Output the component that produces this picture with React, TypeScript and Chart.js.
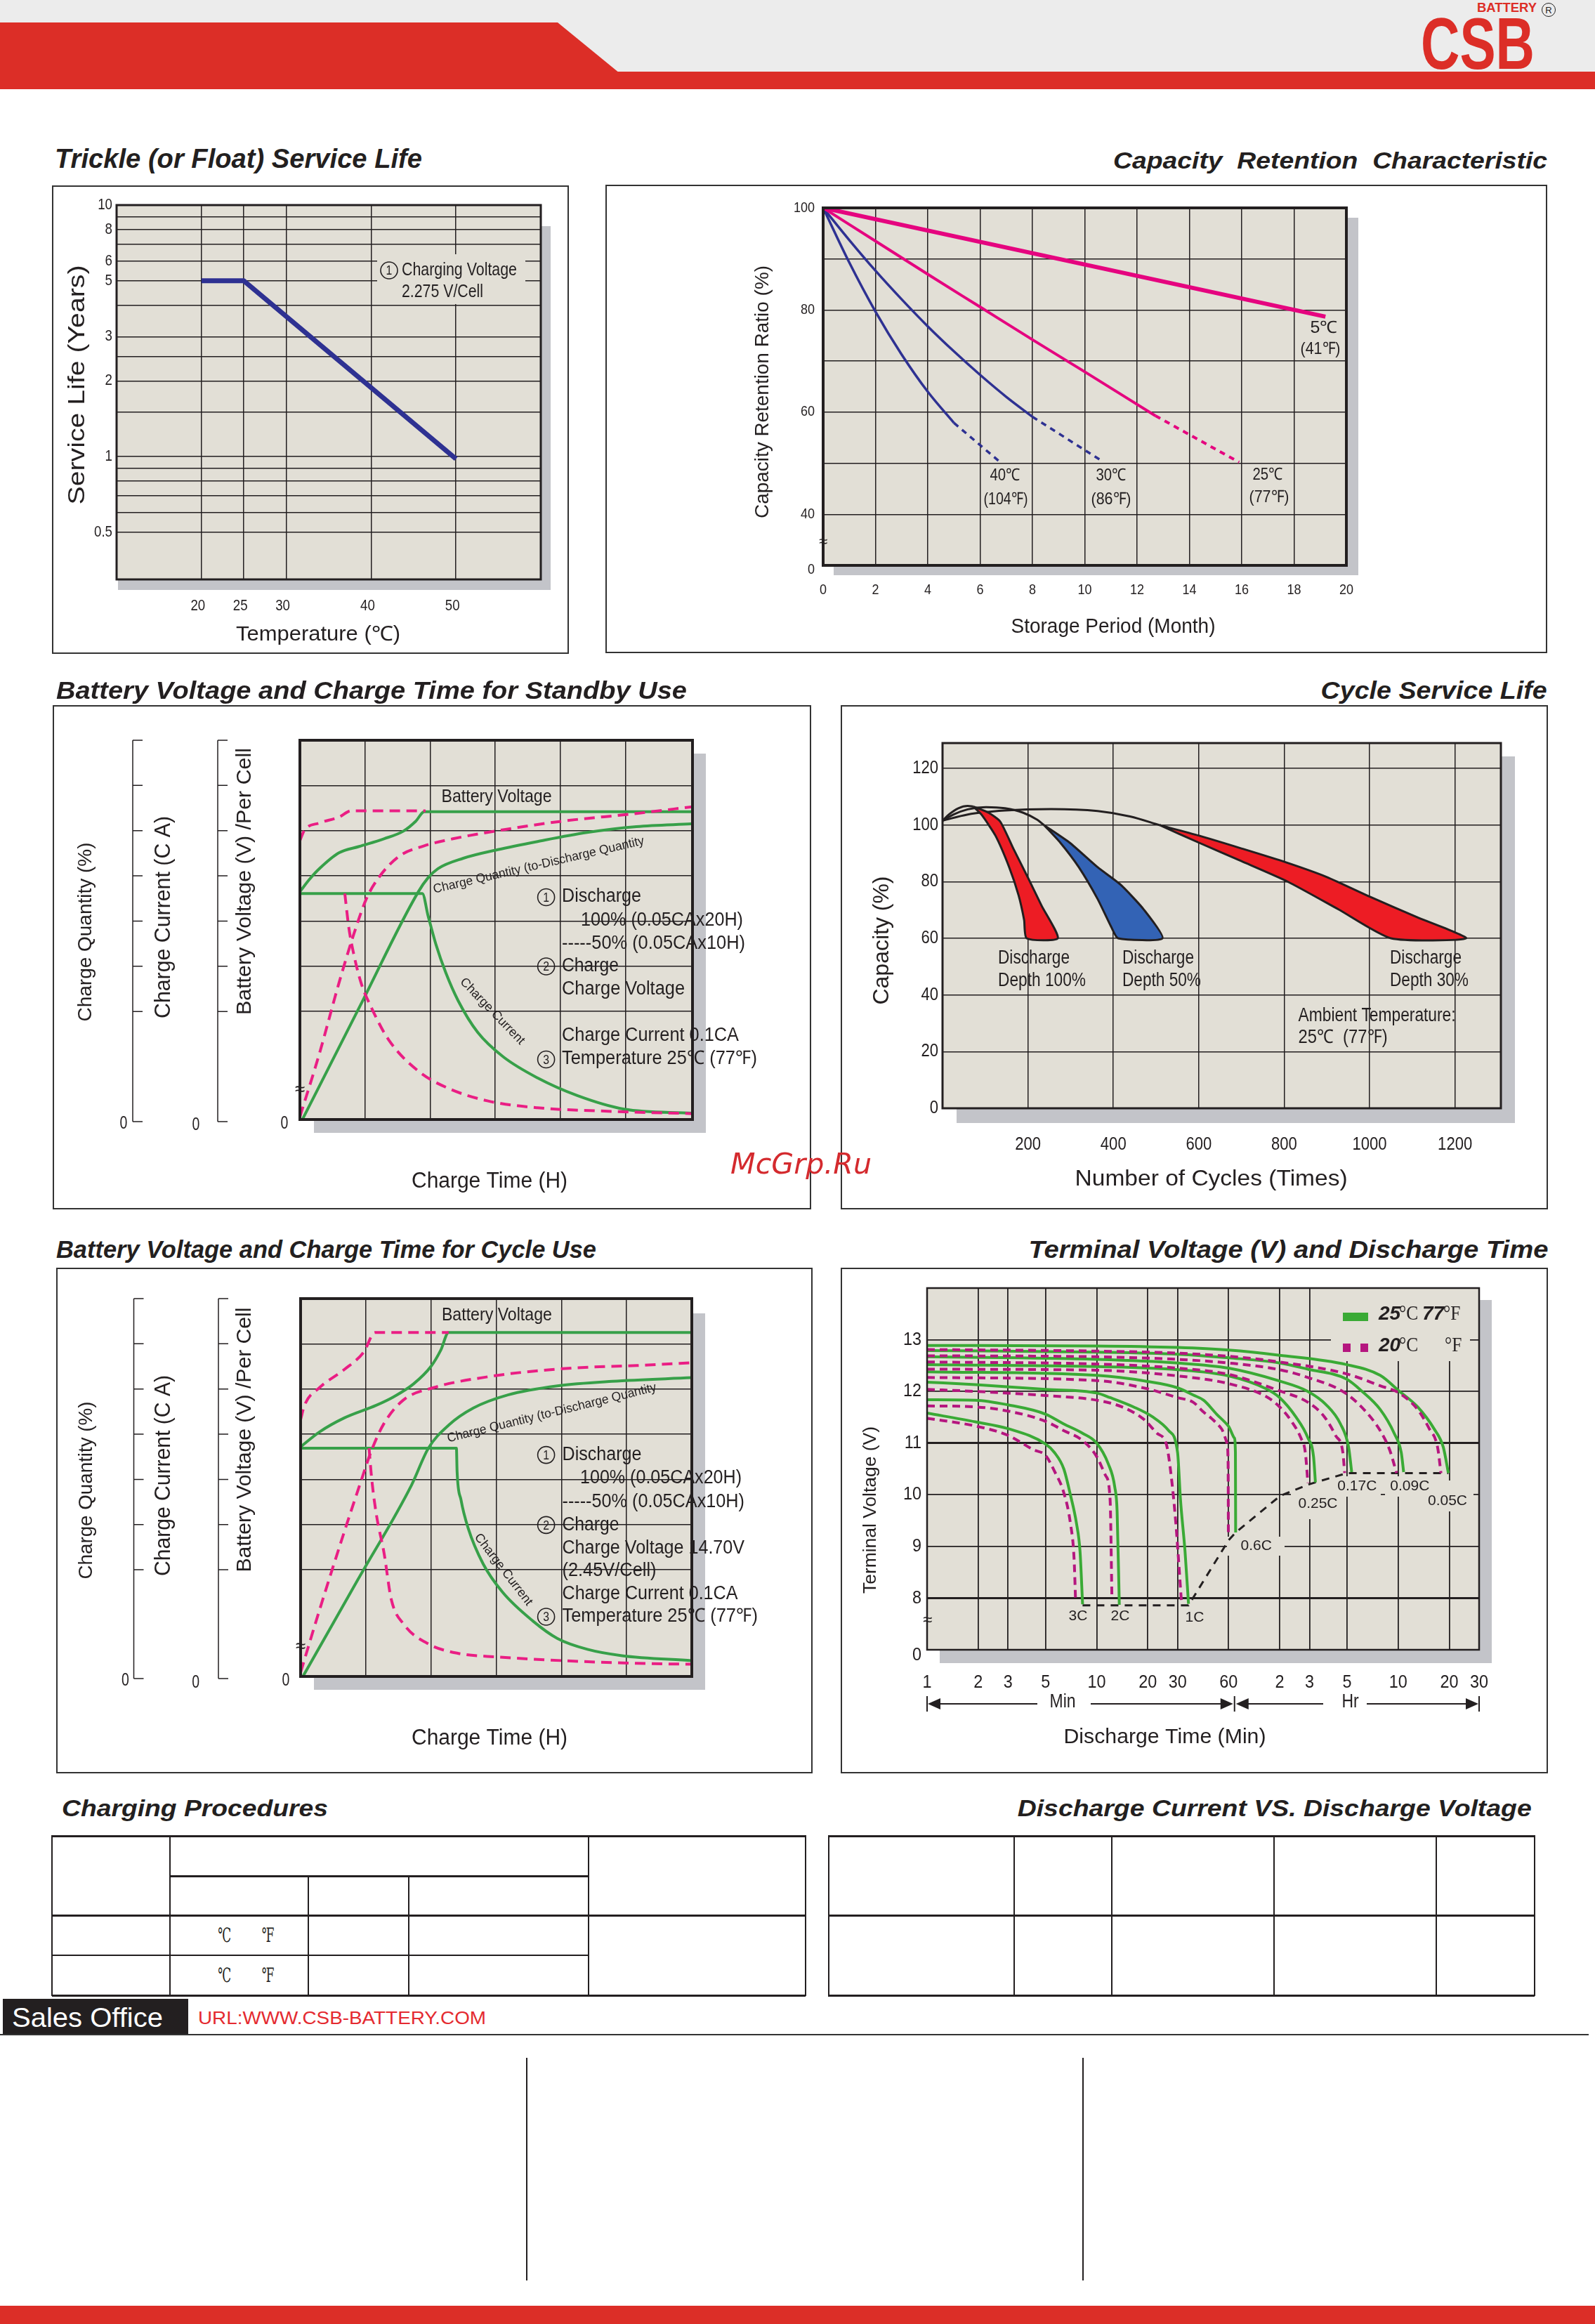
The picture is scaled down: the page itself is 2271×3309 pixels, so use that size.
import React, { useEffect, useRef } from 'react';
import { Chart, registerables } from 'chart.js';

Chart.register(...registerables);

const SANS = '"Liberation Sans", Arial, Helvetica, sans-serif';
const SERIF = '"Liberation Serif", "DejaVu Serif", serif';
const INK = '#231f20';
const PLOT_BG = '#e2dfd6';
const SHADOW = '#c3c4c9';
const BRAND_RED = '#dc2e27';
const NAVY = '#2e3192';
const MAGENTA = '#e5047f';
const CH_GREEN = '#37a049';
const CH_PINK = '#ea1e84';
const TV_GREEN = '#3aaa35';
const TV_PINK = '#b5167f';
const CYCLE_RED = '#ed1c24';
const CYCLE_BLUE = '#3363b5';

// ---------------- Trickle (float) service life ----------------
const trickleTemp = [20, 25, 50];
const trickleYears = [5, 5, 0.98];
const trickleGridX = [20, 25, 30, 40, 50];
const trickleGridY = [9, 8, 7, 6, 5, 4, 3, 2.5, 2, 1.5, 1, 0.9, 0.8, 0.7, 0.6, 0.5];
const trickleLabelY = [10, 8, 6, 5, 3, 2, 1, 0.5];

// ---------------- Capacity retention ----------------
const ret5Month = [0, 19.2];
const ret5Pct = [100, 78.7];
const ret25Month = [0, 2, 4, 6, 8, 10, 12.7];
const ret25Pct = [100, 93.5, 87.0, 80.6, 74.2, 67.9, 59.3];
const ret25DashMonth = [12.7, 15.9];
const ret25DashPct = [59.3, 50.2];
const ret30Month = [0, 1, 2, 3, 4, 5, 6, 7, 8];
const ret30Pct = [100, 93.7, 87.7, 82.1, 76.8, 71.9, 67.3, 63.0, 59.1];
const ret30DashMonth = [8, 10.7];
const ret30DashPct = [59.1, 50.3];
const ret40Month = [0, 1, 2, 3, 4, 5];
const ret40Pct = [100, 89.3, 79.7, 71.3, 64.0, 57.9];
const ret40DashMonth = [5, 6.7];
const ret40DashPct = [57.9, 50.5];
const retGridX = [2, 4, 6, 8, 10, 12, 14, 16, 18];
const retGridY = [40, 50, 60, 70, 80, 90];
const retTickX = [0, 2, 4, 6, 8, 10, 12, 14, 16, 18, 20];
const retTickY = [100, 80, 60, 40];

// ---------------- Standby charging (relative grid units) ----------------
const sbVoltX = [0, 0.145, 0.3, 0.6, 0.91, 1.29, 1.59, 1.78, 1.91, 6.03];
const sbVoltY = [4.65, 4.92, 5.16, 5.51, 5.65, 5.82, 5.99, 6.21, 6.42, 6.42];
const sbVolt50X = [0, 0.07, 0.3, 0.6, 0.79, 1.93];
const sbVolt50Y = [5.78, 6.01, 6.17, 6.3, 6.44, 6.44];
const sbQtyX = [0.046, 0.93, 1.82, 1.97, 2.12, 2.51, 3.04, 3.65, 4.41, 5.17, 6.01];
const sbQtyY = [-0.37, 2.14, 4.65, 4.96, 5.16, 5.39, 5.58, 5.76, 5.96, 6.09, 6.15];
const sbQty50X = [0, 0.3, 0.6, 0.83, 1.02, 1.21, 1.52, 1.9, 2.35, 3.04, 4.03, 5.17, 6.03];
const sbQty50Y = [-0.33, 1.07, 2.63, 3.72, 4.49, 4.96, 5.43, 5.66, 5.82, 6.0, 6.21, 6.38, 6.53];
const sbCurX = [0, 1.88, 1.97, 2.09, 2.24, 2.43, 2.73, 3.12, 3.65, 4.26, 4.98, 6.03];
const sbCurY = [4.61, 4.61, 4.11, 3.48, 2.86, 2.24, 1.54, 1.0, 0.53, 0.14, -0.16, -0.25];
const sbCur50X = [0.69, 0.75, 0.83, 0.94, 1.1, 1.36, 1.82, 2.28, 2.89, 3.65, 4.79, 6.03];
const sbCur50Y = [4.61, 3.87, 3.25, 2.63, 2.08, 1.38, 0.68, 0.3, 0.02, -0.13, -0.21, -0.26];

// ---------------- Cycle charging (relative grid units) ----------------
const cyVoltX = [0, 0.29, 0.67, 1.16, 1.43, 1.73, 2.0, 2.15, 2.27, 6.0];
const cyVoltY = [4.72, 5.05, 5.36, 5.64, 5.83, 6.11, 6.5, 6.86, 7.25, 7.25];
const cyVolt50X = [0, 0.06, 0.29, 0.67, 0.97, 1.14, 2.27];
const cyVolt50Y = [5.32, 5.64, 6.03, 6.43, 6.82, 7.25, 7.25];
const cyQtyX = [0.04, 0.87, 1.7, 1.96, 2.27, 2.65, 3.18, 3.94, 4.78, 6.0];
const cyQtyY = [-0.35, 1.76, 3.87, 4.69, 5.2, 5.58, 5.87, 6.07, 6.17, 6.25];
const cyQty50X = [0, 0.29, 0.67, 0.94, 1.09, 1.28, 1.58, 2.04, 2.87, 4.02, 5.16, 6.0];
const cyQty50Y = [-0.27, 1.11, 2.84, 4.02, 4.65, 5.24, 5.76, 6.03, 6.27, 6.45, 6.52, 6.58];
const cyCurX = [0, 2.39, 2.4, 2.46, 2.57, 2.8, 3.1, 3.56, 3.94, 4.4, 4.93, 6.0];
const cyCurY = [4.69, 4.69, 4.18, 3.55, 2.92, 2.13, 1.5, 0.87, 0.48, 0.24, 0.1, -0.01];
const cyCur50X = [1.05, 1.09, 1.16, 1.28, 1.39, 1.58, 1.96, 2.42, 3.03, 4.02, 5.16, 6.0];
const cyCur50Y = [4.69, 4.02, 3.24, 2.37, 1.35, 0.8, 0.36, 0.15, 0.07, -0.01, -0.07, -0.09];
const chargeGridX = [1, 2, 3, 4, 5];
const chargeGridY = [2, 3, 4, 5, 6, 7];

// ---------------- Cycle service life ----------------
const env1X = [0, 15, 37, 59, 72];
const env1Y = [101.5, 103.7, 105.9, 106.7, 106.5];
const env2X = [0, 26, 59, 102, 146, 189, 222, 238];
const env2Y = [101.5, 103.7, 105.5, 106.3, 105.9, 104.3, 101.8, 99.9];
const env3X = [0, 59, 146, 254, 363, 439, 509];
const env3Y = [101.5, 103.7, 105.1, 105.6, 104.9, 103.0, 99.9];
const dod100X = [72, 91, 124, 156, 178, 191, 197, 270, 232, 200, 167, 135, 108, 72];
const dod100Y = [106.5, 103.7, 96.2, 85.1, 75.2, 66.5, 60, 60, 71.5, 81.4, 91.3, 101.2, 104.3, 106.5];
const dod50X = [238, 276, 319, 363, 395, 411, 515, 471, 417, 363, 298, 238];
const dod50Y = [99.9, 93.7, 85.1, 73.9, 64, 60, 60, 70.2, 78.9, 85.1, 93.7, 99.9];
const dod30X = [509, 601, 700, 808, 927, 1050, 1226, 1110, 1003, 900, 802, 700, 601, 509];
const dod30Y = [99.9, 93.7, 87.2, 80.0, 70.2, 60, 60, 67.5, 74.5, 81.6, 86.9, 91.7, 96.2, 99.9];
const cycleGridX = [200, 400, 600, 800, 1000, 1200];
const cycleGridY = [20, 40, 60, 80, 100, 120];
const cycleTickY = [0, 20, 40, 60, 80, 100, 120];

// ---------------- Terminal voltage vs discharge time (minutes, volts) ----------------
const t25_3C = [1, 1.93, 3, 5, 5.63, 6.4, 7.0, 7.6, 7.98, 8.26];
const v25_3C = [11.58, 11.41, 11.28, 10.98, 10.82, 10.5, 10.0, 9.45, 8.9, 7.88];
const t20_3C = [1, 1.93, 3, 4.24, 5, 5.63, 6.4, 7.0, 7.36, 7.5];
const v20_3C = [11.48, 11.33, 11.15, 10.87, 10.76, 10.46, 10.04, 9.45, 8.76, 8.01];
const t25_2C = [1, 1.93, 3, 5, 6.4, 8.26, 10, 11.7, 12.8, 13.2, 13.6];
const v25_2C = [11.84, 11.83, 11.74, 11.56, 11.37, 11.19, 11.0, 10.6, 10.14, 9.68, 7.87];
const t20_2C = [1, 1.93, 3, 5, 6.4, 8.26, 10, 11.3, 12.0, 12.3];
const v20_2C = [11.72, 11.7, 11.62, 11.42, 11.24, 11.05, 10.74, 10.37, 9.91, 8.01];
const t25_1C = [1, 1.93, 5, 10, 12, 16.5, 21.3, 26.6, 30, 31.2, 33.2, 34.8];
const v25_1C = [12.18, 12.13, 12.04, 11.97, 11.88, 11.7, 11.51, 11.24, 10.82, 9.91, 8.9, 7.89];
const t20_1C = [1, 1.93, 5, 10, 14.1, 18.8, 22.7, 25.8, 27.5, 29.3, 31.6];
const v20_1C = [12.04, 12.0, 11.92, 11.83, 11.7, 11.47, 11.19, 10.97, 10.37, 9.45, 7.94];
const t25_06C = [1, 10, 19.4, 30, 37.1, 42.7, 51, 59.8, 64.8, 65.8, 66];
const v25_06C = [12.38, 12.31, 12.2, 12.07, 11.93, 11.83, 11.56, 11.33, 11.1, 10.82, 9.27];
const t20_06C = [1, 10, 19.4, 30, 37.1, 42.7, 47.8, 54.4, 58.7, 59.6, 59.8];
const v20_06C = [12.27, 12.21, 12.06, 11.88, 11.79, 11.6, 11.47, 11.28, 11.0, 10.6, 9.27];
const t25_025C = [1, 10, 30, 60, 100, 120, 150, 176, 190, 195];
const v25_025C = [12.52, 12.48, 12.42, 12.3, 12.05, 11.88, 11.5, 11.1, 10.74, 10.24];
const t20_025C = [1, 10, 30, 60, 100, 120, 141, 160, 170, 176];
const v20_025C = [12.43, 12.41, 12.3, 12.15, 11.9, 11.7, 11.42, 11.1, 10.82, 10.23];
const t25_017C = [1, 10, 30, 60, 120, 176, 226, 274, 306, 319];
const v25_017C = [12.67, 12.62, 12.55, 12.45, 12.2, 12.0, 11.74, 11.37, 10.92, 10.44];
const t20_017C = [1, 10, 30, 60, 120, 176, 220, 257, 283, 290];
const v20_017C = [12.57, 12.53, 12.45, 12.33, 12.01, 11.79, 11.51, 11.14, 10.82, 10.42];
const t25_009C = [1, 10, 30, 60, 120, 176, 297, 365, 470, 568, 625, 646];
const v25_009C = [12.79, 12.76, 12.72, 12.65, 12.55, 12.43, 12.24, 12.01, 11.65, 11.19, 10.82, 10.44];
const t20_009C = [1, 10, 30, 60, 120, 176, 292, 389, 470, 534, 587];
const v20_009C = [12.69, 12.67, 12.62, 12.55, 12.42, 12.27, 11.97, 11.6, 11.24, 10.87, 10.42];
const t25_005C = [1, 10, 30, 60, 120, 297, 470, 606, 781, 975, 1107, 1186];
const v25_005C = [12.89, 12.88, 12.85, 12.8, 12.7, 12.52, 12.31, 12.01, 11.7, 11.28, 10.92, 10.42];
const t20_005C = [1, 10, 30, 60, 120, 297, 470, 606, 781, 914, 1024, 1072];
const v20_005C = [12.81, 12.78, 12.74, 12.68, 12.57, 12.34, 12.11, 11.97, 11.65, 11.28, 10.92, 10.42];
const cutoffT = [8.26, 34.8, 60, 66, 121, 178, 195, 300, 1186];
const cutoffV = [7.86, 7.86, 9.12, 9.27, 9.98, 10.2, 10.24, 10.42, 10.42];
const tvGridX = [2, 3, 5, 10, 20, 30, 60, 120, 180, 300, 600, 1200];
const tvGridY = [8, 9, 10, 11, 12, 13];
const tvTickX = [1, 2, 3, 5, 10, 20, 30, 60, 120, 180, 300, 600, 1200, 1800];

// ---------------- helpers ----------------
type TS = { t: string; x: number; y: number; size: number; fam?: string; b?: boolean; i?: boolean; al?: string; rot?: number; w?: number; sx?: number; c?: string };

function fontOf(s: TS) {
  return `${s.i ? 'italic ' : ''}${s.b ? 'bold ' : ''}${s.size}px ${s.fam || SANS}`;
}

function drawText(ctx: any, s: TS, ox = 0, oy = 0) {
  ctx.save();
  ctx.font = fontOf(s);
  ctx.fillStyle = s.c || INK;
  ctx.textBaseline = 'middle';
  ctx.textAlign = 'left';
  const m = ctx.measureText(s.t).width || 1;
  const k = s.w ? s.w / m : s.sx ?? 1;
  ctx.translate(s.x - ox, s.y - oy);
  if (s.rot) ctx.rotate((s.rot * Math.PI) / 180);
  ctx.scale(k, 1);
  const f = s.al === 'center' ? 0.5 : s.al === 'right' ? 1 : 0;
  ctx.fillText(s.t, -m * f, 0);
  ctx.restore();
}

function circled(ctx: any, n: number, cx: number, cy: number, r: number) {
  ctx.save();
  ctx.strokeStyle = INK;
  ctx.lineWidth = 1.6;
  ctx.beginPath();
  ctx.arc(cx, cy, r, 0, Math.PI * 2);
  ctx.stroke();
  ctx.restore();
  drawText(ctx, { t: String(n), x: cx, y: cy + 1, size: r * 1.55, al: 'center', sx: 0.85 });
}

function axis(type: string, min: number, max: number, grid: number[], lw: any = 1.5) {
  return {
    type,
    min,
    max,
    bounds: 'data',
    ticks: { display: false, callback: () => '' },
    border: { display: false },
    grid: {
      drawTicks: false,
      color: INK,
      lineWidth: typeof lw === 'function' ? (c: any) => lw(c.tick ? c.tick.value : 0) : lw,
    },
    afterBuildTicks: (ax: any) => {
      ax.ticks = grid.map((v) => ({ value: v }));
    },
  };
}

const mono = { cubicInterpolationMode: 'monotone' };

function line(xs: number[], ys: number[], color: string, width: number, opts: any = {}) {
  return {
    data: xs.map((x, i) => ({ x, y: ys[i] })),
    borderColor: color,
    backgroundColor: color,
    borderWidth: width,
    pointRadius: 0,
    fill: false,
    tension: 0,
    ...opts,
  };
}

function yLabels(ch: any, ctx: any, vals: number[], fmt: (v: number) => string, xr: number, st: any, dy = 0) {
  const s = ch.scales.y;
  vals.forEach((v) => drawText(ctx, { ...st, t: fmt(v), x: xr, y: s.getPixelForValue(v) + dy, al: 'right' }));
}

function xLabels(ch: any, ctx: any, vals: number[], fmt: (v: number) => string, y: number, st: any, dx = 0) {
  const s = ch.scales.x;
  vals.forEach((v) => drawText(ctx, { ...st, t: fmt(v), x: s.getPixelForValue(v) + dx, y, al: 'center' }));
}

function leftAxes(ch: any, ctx: any, xs: number[]) {
  const y = ch.scales.y;
  const top = y.getPixelForValue(8);
  const bot = y.getPixelForValue(y.min) + 3;
  const marks = [8, 7, 6, 5, 4, 3, 2].map((v) => y.getPixelForValue(v)).concat([bot]);
  ctx.save();
  ctx.strokeStyle = INK;
  ctx.lineWidth = 1.5;
  xs.forEach((x) => {
    ctx.beginPath();
    ctx.moveTo(x, top);
    ctx.lineTo(x, bot);
    marks.forEach((py) => {
      ctx.moveTo(x, py);
      ctx.lineTo(x + 14, py);
    });
    ctx.stroke();
  });
  ctx.restore();
}

function panelPlugin(p: any) {
  const ox = p.box[0];
  const oy = p.box[1];
  return {
    id: 'panelDeco',
    beforeDraw(ch: any) {
      const ctx = ch.ctx;
      const a = ch.chartArea;
      ctx.save();
      ctx.fillStyle = SHADOW;
      ctx.fillRect(p.shadow[0] - ox, p.shadow[1] - oy, p.shadow[2] - p.shadow[0], p.shadow[3] - p.shadow[1]);
      ctx.fillStyle = PLOT_BG;
      ctx.fillRect(a.left, a.top, a.right - a.left, a.bottom - a.top);
      ctx.restore();
    },
    beforeDatasetsDraw(ch: any) {
      const ctx = ch.ctx;
      ctx.save();
      ctx.fillStyle = PLOT_BG;
      (p.masks || []).forEach((r: number[]) => ctx.fillRect(r[0] - ox, r[1] - oy, r[2] - r[0], r[3] - r[1]));
      ctx.restore();
    },
    afterDraw(ch: any) {
      const ctx = ch.ctx;
      const a = ch.chartArea;
      ctx.save();
      ctx.strokeStyle = INK;
      ctx.lineWidth = p.border;
      ctx.strokeRect(a.left, a.top, a.right - a.left, a.bottom - a.top);
      ctx.restore();
      if (p.decorate) p.decorate(ch, ctx, ox, oy);
      (p.texts || []).forEach((s: TS) => drawText(ctx, s, ox, oy));
      (p.circles || []).forEach((c: number[]) => circled(ctx, c[0], c[1] - ox, c[2] - oy, c[3]));
    },
  };
}

function ChartPanel({ p }: any) {
  const ref = useRef<HTMLCanvasElement>(null);
  const [l, t, r, b] = p.box;
  useEffect(() => {
    const chart = new Chart(ref.current as HTMLCanvasElement, {
      type: 'line',
      data: { datasets: p.datasets() },
      options: {
        responsive: false,
        animation: false,
        events: [],
        layout: { padding: { left: p.plot[0] - l, top: p.plot[1] - t, right: r - p.plot[2], bottom: b - p.plot[3] } },
        plugins: { legend: { display: false }, tooltip: { enabled: false } },
        elements: { point: { radius: 0, hoverRadius: 0 } },
        scales: p.scales(),
      } as any,
      plugins: [panelPlugin(p)],
    } as any);
    return () => chart.destroy();
  }, []);
  return (
    <canvas
      ref={ref}
      width={r - l}
      height={b - t}
      style={{ position: 'absolute', left: l, top: t, width: r - l, height: b - t }}
    />
  );
}

let measureCtx: any = null;
function measure(t: string, font: string) {
  if (!measureCtx) measureCtx = document.createElement('canvas').getContext('2d');
  measureCtx.font = font;
  return measureCtx.measureText(t).width || 1;
}

function Txt({ s }: { s: TS }) {
  const font = fontOf(s);
  const m = measure(s.t, font);
  const k = s.w ? s.w / m : s.sx ?? 1;
  const f = s.al === 'center' ? 0.5 : s.al === 'right' ? 1 : 0;
  return (
    <div
      style={{
        position: 'absolute',
        left: s.x - m * f,
        top: s.y - s.size / 2,
        width: m,
        height: s.size,
        font,
        lineHeight: `${s.size}px`,
        color: s.c || INK,
        whiteSpace: 'pre',
        transform: `scaleX(${k})`,
        transformOrigin: `${f * 100}% 50%`,
      }}
    >
      {s.t}
    </div>
  );
}

const small = { size: 22, sx: 0.85 };

// ---------------- panels ----------------
const panels: any[] = [
  {
    key: 'trickle',
    box: [74, 264, 810, 931],
    plot: [166, 292, 770, 825],
    shadow: [168, 322, 784, 840],
    border: 3,
    masks: [[537, 362, 748, 433]],
    datasets: () => [line(trickleTemp, trickleYears, NAVY, 7, { borderJoinStyle: 'round' })],
    scales: () => ({
      x: axis('linear', 10, 60, trickleGridX),
      y: axis('logarithmic', 0.325, 10, trickleGridY),
    }),
    texts: [
      { t: 'Service Life (Years)', x: 111, y: 548, size: 34, rot: -90, al: 'center', w: 341 },
      { t: 'Temperature (℃)', x: 453, y: 904, size: 29, al: 'center', w: 234 },
      { t: 'Charging Voltage', x: 572, y: 385, size: 26, w: 164 },
      { t: '2.275 V/Cell', x: 572, y: 416, size: 26, w: 116 },
    ],
    circles: [[1, 554, 385, 12]],
    decorate: (ch: any, ctx: any, ox: number, oy: number) => {
      yLabels(ch, ctx, trickleLabelY, (v) => String(v), 160 - ox, small);
      xLabels(ch, ctx, trickleGridX, (v) => String(v), 863 - oy, small, -5);
    },
  },
  {
    key: 'retention',
    box: [862, 263, 2203, 930],
    plot: [1172, 296, 1917, 805],
    shadow: [1187, 310, 1934, 819],
    border: 4,
    datasets: () => [
      line(ret5Month, ret5Pct, MAGENTA, 6),
      line(ret25Month, ret25Pct, MAGENTA, 4, mono),
      line(ret25DashMonth, ret25DashPct, MAGENTA, 4, { borderDash: [8, 7] }),
      line(ret30Month, ret30Pct, NAVY, 3.5, mono),
      line(ret30DashMonth, ret30DashPct, NAVY, 3.5, { borderDash: [8, 7] }),
      line(ret40Month, ret40Pct, NAVY, 3.5, mono),
      line(ret40DashMonth, ret40DashPct, NAVY, 3.5, { borderDash: [8, 7] }),
    ],
    scales: () => ({
      x: axis('linear', 0, 20, retGridX),
      y: axis('linear', 30, 100, retGridY),
    }),
    texts: [
      { t: 'Capacity Retention Ratio (%)', x: 1087, y: 558, size: 27, rot: -90, al: 'center', w: 360 },
      { t: 'Storage Period (Month)', x: 1585, y: 893, size: 29, al: 'center', w: 291 },
      { t: '5℃', x: 1885, y: 467, size: 24, al: 'center', w: 39 },
      { t: '(41℉)', x: 1880, y: 497, size: 24, al: 'center', w: 57 },
      { t: '40℃', x: 1431, y: 677, size: 24, al: 'center', w: 43 },
      { t: '(104℉)', x: 1432, y: 711, size: 24, al: 'center', w: 63 },
      { t: '30℃', x: 1582, y: 677, size: 24, al: 'center', w: 43 },
      { t: '(86℉)', x: 1582, y: 711, size: 24, al: 'center', w: 57 },
      { t: '25℃', x: 1805, y: 676, size: 24, al: 'center', w: 43 },
      { t: '(77℉)', x: 1807, y: 708, size: 24, al: 'center', w: 57 },
      { t: '≈', x: 1172, y: 772, size: 22, al: 'center' },
    ],
    decorate: (ch: any, ctx: any, ox: number, oy: number) => {
      yLabels(ch, ctx, retTickY, (v) => String(v), 1160 - ox, { size: 20, sx: 0.9 });
      drawText(ctx, { t: '0', x: 1160 - ox, y: ch.scales.y.getPixelForValue(30) + 6, size: 20, al: 'right', sx: 0.9 });
      xLabels(ch, ctx, retTickX, (v) => String(v), 840 - oy, { size: 20, sx: 0.9 });
    },
  },
  {
    key: 'standby',
    box: [75, 1004, 1155, 1722],
    plot: [427, 1054, 986, 1594],
    shadow: [447, 1073, 1005, 1613],
    border: 4,
    datasets: () => [
      line(sbCur50X, sbCur50Y, CH_PINK, 4, { ...mono, borderDash: [15, 9] }),
      line(sbQty50X, sbQty50Y, CH_PINK, 4, { ...mono, borderDash: [15, 9] }),
      line(sbVolt50X, sbVolt50Y, CH_PINK, 4, { ...mono, borderDash: [15, 9] }),
      line(sbCurX, sbCurY, CH_GREEN, 4, mono),
      line(sbQtyX, sbQtyY, CH_GREEN, 4, mono),
      line(sbVoltX, sbVoltY, CH_GREEN, 4, mono),
    ],
    scales: () => ({
      x: axis('linear', 0, 6.03, chargeGridX),
      y: axis('linear', -0.39, 8, chargeGridY),
    }),
    texts: [
      { t: 'Charge Quantity (%)', x: 122, y: 1327, size: 28, rot: -90, al: 'center', w: 255 },
      { t: 'Charge Current (C A)', x: 233, y: 1306, size: 31, rot: -90, al: 'center', w: 288 },
      { t: 'Battery Voltage (V) /Per Cell', x: 349, y: 1255, size: 30, rot: -90, al: 'center', w: 380 },
      { t: '0', x: 176, y: 1600, size: 26, al: 'center', sx: 0.75 },
      { t: '0', x: 279, y: 1602, size: 26, al: 'center', sx: 0.75 },
      { t: '0', x: 405, y: 1600, size: 26, al: 'center', sx: 0.75 },
      { t: 'Charge Time (H)', x: 697, y: 1682, size: 31, al: 'center', w: 222 },
      { t: 'Battery Voltage', x: 707, y: 1135, size: 26, al: 'center', w: 157 },
      { t: 'Charge Quantity (to-Discharge Quantity', x: 767, y: 1232, size: 18, al: 'center', rot: -13.1, w: 308 },
      { t: 'Charge Current', x: 701, y: 1440, size: 18, al: 'center', rot: 46, w: 124 },
      { t: 'Discharge', x: 800, y: 1277, size: 27, w: 113 },
      { t: '100% (0.05CAx20H)', x: 827, y: 1311, size: 27, w: 231 },
      { t: '-----50% (0.05CAx10H)', x: 800, y: 1344, size: 27, w: 261 },
      { t: 'Charge', x: 800, y: 1376, size: 27, w: 81 },
      { t: 'Charge Voltage', x: 800, y: 1409, size: 27, w: 175 },
      { t: 'Charge Current 0.1CA', x: 800, y: 1475, size: 27, w: 252 },
      { t: 'Temperature 25℃ (77℉)', x: 800, y: 1508, size: 27, w: 278 },
      { t: '≈', x: 427, y: 1552, size: 26, al: 'center' },
    ],
    circles: [
      [1, 777.6, 1277.5, 12],
      [2, 777.6, 1376, 12],
      [3, 777.6, 1508.5, 12],
    ],
    decorate: (ch: any, ctx: any, ox: number) => leftAxes(ch, ctx, [189 - ox, 310 - ox]),
  },
  {
    key: 'cyclelife',
    box: [1197, 1004, 2204, 1722],
    plot: [1342, 1058, 2137, 1578],
    shadow: [1362, 1077, 2157, 1599],
    border: 3,
    datasets: () => [
      line(dod100X, dod100Y, INK, 3, { fill: 'shape', backgroundColor: CYCLE_RED, tension: 0.2 }),
      line(dod50X, dod50Y, INK, 3, { fill: 'shape', backgroundColor: CYCLE_BLUE, tension: 0.2 }),
      line(dod30X, dod30Y, INK, 3, { fill: 'shape', backgroundColor: CYCLE_RED, tension: 0.2 }),
      line(env1X, env1Y, INK, 3, mono),
      line(env2X, env2Y, INK, 3, mono),
      line(env3X, env3Y, INK, 3, mono),
    ],
    scales: () => ({
      x: axis('linear', 0, 1307.4, cycleGridX),
      y: axis('linear', 0, 128.9, cycleGridY),
    }),
    texts: [
      { t: 'Capacity (%)', x: 1256, y: 1339, size: 32, rot: -90, al: 'center', w: 183 },
      { t: 'Number of Cycles (Times)', x: 1724.6, y: 1679, size: 32, al: 'center', w: 388 },
      { t: 'Discharge', x: 1421, y: 1365, size: 27, w: 102 },
      { t: 'Depth 100%', x: 1421, y: 1396.5, size: 27, w: 125 },
      { t: 'Discharge', x: 1598, y: 1365, size: 27, w: 102 },
      { t: 'Depth 50%', x: 1598, y: 1396.5, size: 27, w: 112 },
      { t: 'Discharge', x: 1979, y: 1365, size: 27, w: 102 },
      { t: 'Depth 30%', x: 1979, y: 1396.5, size: 27, w: 112 },
      { t: 'Ambient Temperature:', x: 1848.6, y: 1446.5, size: 27, w: 224 },
      { t: '25℃  (77℉)', x: 1848.6, y: 1477.5, size: 27, w: 127 },
    ],
    decorate: (ch: any, ctx: any, ox: number, oy: number) => {
      yLabels(ch, ctx, cycleTickY, (v) => String(v), 1336 - ox, { size: 26, sx: 0.85 });
      xLabels(ch, ctx, cycleGridX, (v) => String(v), 1630 - oy, { size: 26, sx: 0.85 });
    },
  },
  {
    key: 'cycleuse',
    box: [80, 1805, 1157, 2525],
    plot: [428, 1849, 985, 2387],
    shadow: [447, 1870, 1004, 2406],
    border: 4,
    datasets: () => [
      line(cyCur50X, cyCur50Y, CH_PINK, 4, { ...mono, borderDash: [15, 9] }),
      line(cyQty50X, cyQty50Y, CH_PINK, 4, { ...mono, borderDash: [15, 9] }),
      line(cyVolt50X, cyVolt50Y, CH_PINK, 4, { ...mono, borderDash: [15, 9] }),
      line(cyCurX, cyCurY, CH_GREEN, 4, mono),
      line(cyQtyX, cyQtyY, CH_GREEN, 4, mono),
      line(cyVoltX, cyVoltY, CH_GREEN, 4, mono),
    ],
    scales: () => ({
      x: axis('linear', 0, 6, chargeGridX),
      y: axis('linear', -0.36, 8, chargeGridY),
    }),
    texts: [
      { t: 'Charge Quantity (%)', x: 123.5, y: 2122, size: 28, rot: -90, al: 'center', w: 253 },
      { t: 'Charge Current (C A)', x: 233, y: 2101, size: 31, rot: -90, al: 'center', w: 286 },
      { t: 'Battery Voltage (V) /Per Cell', x: 349, y: 2050, size: 30, rot: -90, al: 'center', w: 377 },
      { t: '0', x: 178.5, y: 2393, size: 26, al: 'center', sx: 0.75 },
      { t: '0', x: 278.6, y: 2396, size: 26, al: 'center', sx: 0.75 },
      { t: '0', x: 407, y: 2393, size: 26, al: 'center', sx: 0.75 },
      { t: 'Charge Time (H)', x: 697, y: 2475, size: 31, al: 'center', w: 222 },
      { t: 'Battery Voltage', x: 707.4, y: 1873, size: 26, al: 'center', w: 157 },
      { t: 'Charge Quantity (to-Discharge Quantity', x: 785.6, y: 2012, size: 18, al: 'center', rot: -13.85, w: 306 },
      { t: 'Charge Current', x: 716.8, y: 2235, size: 18, al: 'center', rot: 52.5, w: 124 },
      { t: 'Discharge', x: 800.5, y: 2071.6, size: 27, w: 113 },
      { t: '100% (0.05CAx20H)', x: 826, y: 2104.6, size: 27, w: 230 },
      { t: '-----50% (0.05CAx10H)', x: 800.5, y: 2138.5, size: 27, w: 259.5 },
      { t: 'Charge', x: 800.5, y: 2171.4, size: 27, w: 81 },
      { t: 'Charge Voltage 14.70V', x: 800.5, y: 2204.3, size: 27, w: 259.5 },
      { t: '(2.45V/Cell)', x: 800.5, y: 2236.2, size: 27, w: 134 },
      { t: 'Charge Current 0.1CA', x: 800.5, y: 2269.1, size: 27, w: 250 },
      { t: 'Temperature 25℃ (77℉)', x: 800.5, y: 2302, size: 27, w: 278.5 },
      { t: '≈', x: 428, y: 2345, size: 26, al: 'center' },
    ],
    circles: [
      [1, 777.6, 2071.6, 12],
      [2, 777.6, 2171.4, 12],
      [3, 777.6, 2302, 12],
    ],
    decorate: (ch: any, ctx: any, ox: number) => leftAxes(ch, ctx, [190.5 - ox, 311 - ox]),
  },
  {
    key: 'terminal',
    box: [1197, 1805, 2204, 2525],
    plot: [1320, 1834, 2106, 2349],
    shadow: [1338, 1851, 2124, 2368],
    border: 2.5,
    masks: [
      [1895, 1835, 2093, 1938],
      [1747, 2188, 1829, 2215],
      [1838, 2113, 1915, 2163],
      [1898, 2102, 1966, 2131],
      [1972, 2102, 2042, 2131],
      [2024, 2108, 2098, 2152],
    ],
    datasets: () => {
      const dash = { ...mono, borderDash: [11, 7] };
      return [
        line(t20_3C, v20_3C, TV_PINK, 4, dash),
        line(t20_2C, v20_2C, TV_PINK, 4, dash),
        line(t20_1C, v20_1C, TV_PINK, 4, dash),
        line(t20_06C, v20_06C, TV_PINK, 4, dash),
        line(t20_025C, v20_025C, TV_PINK, 4, dash),
        line(t20_017C, v20_017C, TV_PINK, 4, dash),
        line(t20_009C, v20_009C, TV_PINK, 4, dash),
        line(t20_005C, v20_005C, TV_PINK, 4, dash),
        line(t25_3C, v25_3C, TV_GREEN, 4, mono),
        line(t25_2C, v25_2C, TV_GREEN, 4, mono),
        line(t25_1C, v25_1C, TV_GREEN, 4, mono),
        line(t25_06C, v25_06C, TV_GREEN, 4, mono),
        line(t25_025C, v25_025C, TV_GREEN, 4, mono),
        line(t25_017C, v25_017C, TV_GREEN, 4, mono),
        line(t25_009C, v25_009C, TV_GREEN, 4, mono),
        line(t25_005C, v25_005C, TV_GREEN, 4, mono),
        line(cutoffT, cutoffV, INK, 3, { borderDash: [11, 9] }),
      ];
    },
    scales: () => ({
      x: axis('logarithmic', 1, 1800, tvGridX, 1.8),
      y: axis('linear', 7, 14, tvGridY, (v: number) => (v === 8 || v === 11 ? 3 : 1.8)),
    }),
    texts: [
      { t: 'Terminal Voltage (V)', x: 1239.4, y: 2150, size: 26, rot: -90, al: 'center', w: 238 },
      { t: 'Discharge Time (Min)', x: 1658.5, y: 2474, size: 29, al: 'center', w: 288 },
      { t: 'Min', x: 1513, y: 2424, size: 27, al: 'center', sx: 0.85 },
      { t: 'Hr', x: 1922.6, y: 2424, size: 27, al: 'center', sx: 0.85 },
      { t: '≈', x: 1320.6, y: 2307, size: 24, al: 'center' },
      { t: '3C', x: 1535, y: 2301, size: 21, al: 'center' },
      { t: '2C', x: 1595, y: 2301, size: 21, al: 'center' },
      { t: '1C', x: 1701, y: 2303, size: 21, al: 'center' },
      { t: '0.6C', x: 1788.7, y: 2201.6, size: 21, al: 'center' },
      { t: '0.25C', x: 1876.5, y: 2140.8, size: 21, al: 'center' },
      { t: '0.17C', x: 1932.3, y: 2116.5, size: 21, al: 'center' },
      { t: '0.09C', x: 2007.3, y: 2116.5, size: 21, al: 'center' },
      { t: '0.05C', x: 2061, y: 2136.8, size: 21, al: 'center' },
      { t: '25', x: 1963, y: 1871, size: 28, b: true, i: true },
      { t: '°C', x: 1992, y: 1871, size: 30, fam: SERIF, sx: 0.85 },
      { t: '77', x: 2025, y: 1871, size: 28, b: true, i: true },
      { t: '°F', x: 2055, y: 1871, size: 30, fam: SERIF, sx: 0.85 },
      { t: '20', x: 1963, y: 1916, size: 28, b: true, i: true },
      { t: '°C', x: 1992, y: 1916, size: 30, fam: SERIF, sx: 0.85 },
      { t: '°F', x: 2057, y: 1916, size: 30, fam: SERIF, sx: 0.85 },
    ],
    decorate: (ch: any, ctx: any, ox: number, oy: number) => {
      yLabels(ch, ctx, tvGridY, (v) => String(v), 1312 - ox, { size: 26, sx: 0.9 });
      drawText(ctx, { t: '0', x: 1312 - ox, y: ch.scales.y.getPixelForValue(7) + 8, size: 26, al: 'right', sx: 0.9 });
      xLabels(ch, ctx, tvTickX, (v) => (v >= 120 ? String(v / 60) : String(v)), 2396 - oy, { size: 26, sx: 0.9 });
      const xs = ch.scales.x;
      const y = 2426 - oy;
      const a = xs.getPixelForValue(1);
      const m = xs.getPixelForValue(65);
      const e = xs.getPixelForValue(1800);
      ctx.save();
      ctx.strokeStyle = INK;
      ctx.fillStyle = INK;
      ctx.lineWidth = 2;
      ctx.beginPath();
      [a, m, e].forEach((x) => {
        ctx.moveTo(x, y - 11);
        ctx.lineTo(x, y + 11);
      });
      ctx.moveTo(a + 16, y);
      ctx.lineTo(1477 - ox, y);
      ctx.moveTo(1553 - ox, y);
      ctx.lineTo(m - 17, y);
      ctx.moveTo(m + 17, y);
      ctx.lineTo(1884 - ox, y);
      ctx.moveTo(1946 - ox, y);
      ctx.lineTo(e - 16, y);
      ctx.stroke();
      const tri = (tip: number, dir: number) => {
        ctx.beginPath();
        ctx.moveTo(tip, y);
        ctx.lineTo(tip + dir * 18, y - 8);
        ctx.lineTo(tip + dir * 18, y + 8);
        ctx.closePath();
        ctx.fill();
      };
      tri(a + 1, 1);
      tri(m - 2, -1);
      tri(m + 2, 1);
      tri(e - 1, -1);
      ctx.fillStyle = TV_GREEN;
      ctx.fillRect(1912 - ox, 1869 - oy, 36, 12);
      ctx.fillStyle = TV_PINK;
      ctx.fillRect(1912 - ox, 1913 - oy, 11, 12);
      ctx.fillRect(1937 - ox, 1913 - oy, 11, 12);
      ctx.restore();
    },
  },
];

const titles: TS[] = [
  { t: 'Trickle (or Float) Service Life', x: 78, y: 226, size: 38, b: true, i: true, w: 523 },
  { t: 'Capacity  Retention  Characteristic', x: 2203, y: 228, size: 34, b: true, i: true, al: 'right', w: 618 },
  { t: 'Battery Voltage and Charge Time for Standby Use', x: 80, y: 982, size: 35, b: true, i: true, w: 898 },
  { t: 'Cycle Service Life', x: 2203, y: 982, size: 35, b: true, i: true, al: 'right', w: 322 },
  { t: 'Battery Voltage and Charge Time for Cycle Use', x: 80, y: 1778, size: 35, b: true, i: true, w: 769 },
  { t: 'Terminal Voltage (V) and Discharge Time', x: 2204, y: 1778, size: 35, b: true, i: true, al: 'right', w: 740 },
  { t: 'Charging Procedures', x: 88, y: 2574, size: 34, b: true, i: true, w: 379 },
  { t: 'Discharge Current VS. Discharge Voltage', x: 2181, y: 2574, size: 34, b: true, i: true, al: 'right', w: 732 },
];

const tableH: number[][] = [
  [74, 1147, 2614, 3],
  [242, 838, 2671, 3],
  [74, 1147, 2727, 3],
  [74, 838, 2784, 2],
  [74, 1147, 2841, 3],
  [1179, 2185, 2614, 3],
  [1179, 2185, 2727, 3],
  [1179, 2185, 2841, 3],
];
const tableV: number[][] = [
  [74, 2613, 2842, 2],
  [242, 2613, 2842, 2],
  [439, 2671, 2842, 2],
  [582, 2671, 2842, 2],
  [838, 2613, 2842, 2],
  [1147, 2613, 2842, 1.5],
  [1180, 2613, 2842, 2],
  [1444, 2613, 2842, 2],
  [1583, 2613, 2842, 2],
  [1814, 2613, 2842, 2],
  [2045, 2613, 2842, 2],
  [2185, 2613, 2842, 1.5],
];

function Rect({ l, t, w, h, c, extra }: any) {
  return <div style={{ position: 'absolute', left: l, top: t, width: w, height: h, background: c, ...(extra || {}) }} />;
}

export default function App() {
  useEffect(() => {
    document.body.style.margin = '0';
  }, []);
  return (
    <div style={{ position: 'absolute', left: 0, top: 0, width: 2271, height: 3309, background: '#fff', overflow: 'hidden' }}>
      {/* header */}
      <Rect l={0} t={0} w={2271} h={103} c="#ececec" />
      <Rect l={0} t={102} w={2271} h={25} c={BRAND_RED} />
      <Rect l={0} t={32} w={882} h={72} c={BRAND_RED} extra={{ clipPath: 'polygon(0px 0px, 794px 0px, 882px 72px, 0px 72px)' }} />
      <Txt s={{ t: 'BATTERY', x: 2103, y: 11, size: 18, b: true, c: BRAND_RED, w: 85 }} />
      <div style={{ position: 'absolute', left: 2195, top: 4, width: 20, height: 20, borderRadius: '50%', border: '1.5px solid #222', boxSizing: 'border-box' }} />
      <Txt s={{ t: 'R', x: 2205, y: 14.5, size: 13, al: 'center', c: '#222' }} />
      <Txt s={{ t: 'CSB', x: 2023, y: 62, size: 104, b: true, c: BRAND_RED, w: 162 }} />

      {panels.map((p) => (
        <ChartPanel key={p.key} p={p} />
      ))}
      {panels.map((p) => (
        <div
          key={p.key + '-box'}
          style={{
            position: 'absolute',
            left: p.box[0],
            top: p.box[1],
            width: p.box[2] - p.box[0],
            height: p.box[3] - p.box[1],
            border: '2px solid #333',
            boxSizing: 'border-box',
            pointerEvents: 'none',
          }}
        />
      ))}
      {titles.map((s, i) => (
        <Txt key={'title' + i} s={s} />
      ))}

      {/* tables */}
      {tableH.map((h, i) => (
        <Rect key={'th' + i} l={h[0]} t={h[2] - h[3] / 2} w={h[1] - h[0]} h={h[3]} c={INK} />
      ))}
      {tableV.map((v, i) => (
        <Rect key={'tv' + i} l={v[0] - v[3] / 2} t={v[1]} w={v[3]} h={v[2] - v[1]} c={INK} />
      ))}
      <Txt s={{ t: '℃', x: 320, y: 2756, size: 28, fam: SERIF, al: 'center', sx: 0.6 }} />
      <Txt s={{ t: '℉', x: 382, y: 2756, size: 28, fam: SERIF, al: 'center', sx: 0.6 }} />
      <Txt s={{ t: '℃', x: 320, y: 2813, size: 28, fam: SERIF, al: 'center', sx: 0.6 }} />
      <Txt s={{ t: '℉', x: 382, y: 2813, size: 28, fam: SERIF, al: 'center', sx: 0.6 }} />

      {/* footer */}
      <Rect l={4} t={2846} w={264} h={51} c={INK} />
      <Txt s={{ t: 'Sales Office', x: 17, y: 2872, size: 39, c: '#ffffff', w: 215 }} />
      <Txt s={{ t: 'URL:WWW.CSB-BATTERY.COM', x: 282, y: 2873, size: 26, c: '#e42a30', w: 410 }} />
      <Rect l={0} t={2896} w={2262} h={2} c="#333" />
      <Rect l={749} t={2930} w={1.5} h={317} c={INK} />
      <Rect l={1541} t={2930} w={1.5} h={317} c={INK} />
      <Rect l={0} t={3283} w={2271} h={26} c={BRAND_RED} />

      {/* watermark */}
      <Txt s={{ t: 'McGrp.Ru', x: 1140.5, y: 1657, size: 40, i: true, fam: '"DejaVu Sans", sans-serif', c: '#d42a2e', al: 'center', w: 201 }} />
    </div>
  );
}
